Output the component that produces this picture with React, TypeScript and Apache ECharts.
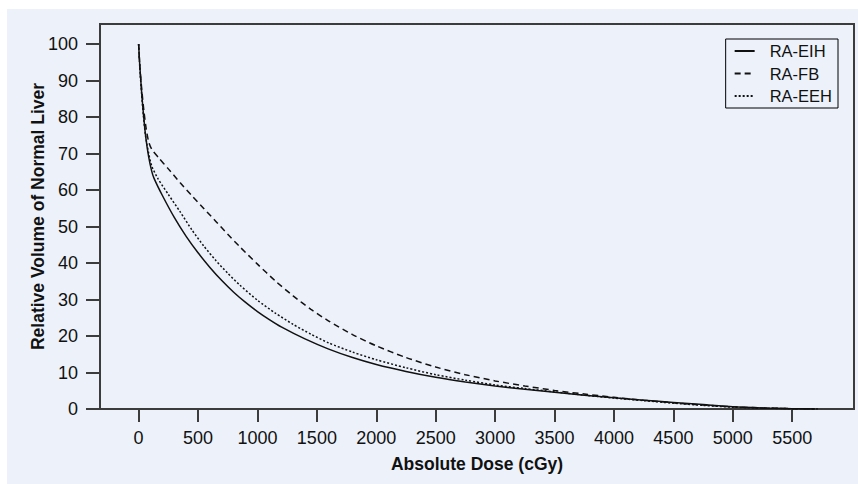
import React, { useEffect, useRef } from "react";
import * as echarts from "echarts";

const seriesNames = ["RA-EIH", "RA-FB", "RA-EEH"];

const eihData: [number, number][] = [
  [0, 100], [10, 94], [25, 87], [40, 81], [60, 74.5], [85, 69], [110, 65.2], [130, 63.2],
  [200, 58.5], [300, 52.5], [400, 47.3], [500, 42.8], [600, 38.8], [700, 35.2],
  [800, 32], [900, 29.2], [1000, 26.7], [1100, 24.5], [1200, 22.5], [1400, 19.2],
  [1600, 16.4], [1800, 14.1], [2000, 12.2], [2250, 10.3], [2500, 8.7], [2750, 7.4],
  [3000, 6.3], [3250, 5.4], [3500, 4.6], [3750, 3.8], [4000, 3.1], [4250, 2.4],
  [4500, 1.8], [4750, 1.2], [5000, 0.6], [5250, 0.3], [5500, 0.1], [5690, 0],
];

const fbData: [number, number][] = [
  [0, 100], [10, 94], [25, 88], [45, 81.5], [65, 76.5], [85, 73.2], [110, 71.2],
  [170, 68.8], [250, 65.8], [350, 62], [450, 58.4], [550, 54.9], [650, 51.4],
  [750, 47.9], [850, 44.5], [1000, 39.7], [1150, 35.1], [1300, 31], [1450, 27.3],
  [1600, 24.1], [1800, 20.4], [2000, 17.3], [2250, 14.1], [2500, 11.5], [2750, 9.4],
  [3000, 7.7], [3250, 6.3], [3500, 5.1], [3750, 4.1], [4000, 3.2], [4250, 2.4],
  [4500, 1.7], [4750, 1.1], [5000, 0.6], [5250, 0.3], [5500, 0.1], [5690, 0],
];

const eehData: [number, number][] = [
  [0, 100], [10, 93.5], [25, 86.5], [40, 80.5], [60, 74.5], [85, 70], [110, 66.6],
  [165, 63], [250, 58.8], [350, 54], [450, 49], [550, 44.6], [650, 40.7], [750, 37.2],
  [850, 34], [1000, 29.8], [1150, 26.3], [1300, 23.2], [1450, 20.5], [1600, 18.1],
  [1800, 15.6], [2000, 13.5], [2250, 11.3], [2500, 9.4], [2750, 7.9], [3000, 6.6],
  [3250, 5.6], [3500, 4.7], [3750, 3.8], [4000, 3.0], [4250, 2.3], [4500, 1.6],
  [4750, 1.0], [5000, 0.5], [5250, 0.25], [5500, 0.08], [5720, 0],
];

const xTicks = [0, 500, 1000, 1500, 2000, 2500, 3000, 3500, 4000, 4500, 5000, 5500];
const yTicks = [0, 10, 20, 30, 40, 50, 60, 70, 80, 90, 100];

const xTitle = "Absolute Dose (cGy)";
const yTitle = "Relative Volume of Normal Liver";

export default function App() {
  const ref = useRef<HTMLDivElement>(null);

  useEffect(() => {
    if (!ref.current) return;
    const chart = echarts.init(ref.current, undefined, { renderer: "svg" });
    const font = "'Liberation Sans', Arial, sans-serif";
    const axisColor = "#3c3c3c";
    const lineColor = "#111";
    const plain = (v: number) => String(v);
    chart.setOption({
      animation: false,
      backgroundColor: "#ECF1FA",
      textStyle: { fontFamily: font },
      grid: {
        left: 93,
        top: 15,
        right: 4,
        bottom: 75,
        show: true,
        borderColor: axisColor,
        borderWidth: 2,
        backgroundColor: "transparent",
      },
      legend: {
        orient: "vertical",
        right: 20,
        top: 30,
        data: seriesNames,
        backgroundColor: "#ECF1FA",
        borderColor: "#000",
        borderWidth: 1,
        padding: [3, 6, 3, 8],
        itemGap: 4.5,
        itemWidth: 20,
        itemHeight: 14,
        itemStyle: { opacity: 0 },
        textStyle: {
          fontFamily: font,
          fontSize: 16.5,
          color: "#111",
          lineHeight: 18,
          padding: [0, 0, 0, 10],
        },
      },
      xAxis: {
        type: "value",
        min: -325,
        max: 6020,
        name: xTitle,
        nameLocation: "middle",
        nameGap: 46,
        nameMoveOverlap: false,
        nameTextStyle: { fontFamily: font, fontSize: 17.5, fontWeight: "bold", color: "#111" },
        axisLine: { show: true, onZero: false, lineStyle: { color: axisColor, width: 2 } },
        axisTick: {
          show: true,
          length: 13,
          customValues: xTicks,
          lineStyle: { color: axisColor, width: 2 },
        },
        axisLabel: {
          customValues: xTicks,
          formatter: plain,
          margin: 20,
          fontFamily: font,
          fontSize: 18,
          color: "#111",
        },
        splitLine: { show: false },
      },
      yAxis: {
        type: "value",
        min: 0,
        max: 105.5,
        name: yTitle,
        nameLocation: "middle",
        nameGap: 53,
        nameMoveOverlap: false,
        nameTextStyle: { fontFamily: font, fontSize: 17.5, fontWeight: "bold", color: "#111" },
        axisLine: { show: true, onZero: false, lineStyle: { color: axisColor, width: 2 } },
        axisTick: {
          show: true,
          length: 14,
          customValues: yTicks,
          lineStyle: { color: axisColor, width: 2 },
        },
        axisLabel: {
          customValues: yTicks,
          formatter: plain,
          margin: 22,
          fontFamily: font,
          fontSize: 18,
          color: "#111",
        },
        splitLine: { show: false },
      },
      series: [
        {
          name: seriesNames[0],
          type: "line",
          data: eihData,
          symbol: "none",
          smooth: 0.25,
          lineStyle: { color: lineColor, width: 1.5, type: "solid" },
          itemStyle: { color: lineColor },
        },
        {
          name: seriesNames[1],
          type: "line",
          data: fbData,
          symbol: "none",
          smooth: 0.25,
          lineStyle: { color: lineColor, width: 1.5, type: [6, 4] },
          itemStyle: { color: lineColor },
        },
        {
          name: seriesNames[2],
          type: "line",
          data: eehData,
          symbol: "none",
          smooth: 0.25,
          lineStyle: { color: lineColor, width: 1.5, type: [2, 2] },
          itemStyle: { color: lineColor },
        },
      ],
    });
    return () => chart.dispose();
  }, []);

  return (
    <div
      style={{
        position: "fixed",
        left: 0,
        top: 0,
        width: 858,
        height: 484,
        background: "#ffffff",
      }}
    >
      <div
        ref={ref}
        style={{ position: "absolute", left: 7, top: 9, width: 851, height: 475 }}
      />
    </div>
  );
}
